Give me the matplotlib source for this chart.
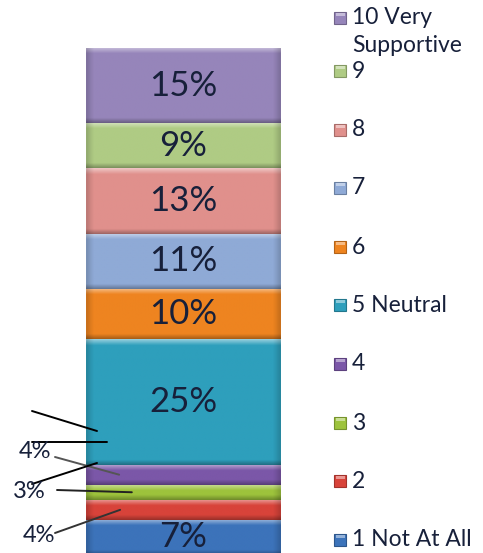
import numpy as np
import matplotlib
matplotlib.use("Agg")
import matplotlib.pyplot as plt
from matplotlib.patches import Rectangle
import matplotlib.colors as mcolors

plt.rcParams['font.family'] = ['Lato', 'DejaVu Sans']

# ---- data (bottom to top) ----
categories = ["1 Not At All", "2", "3", "4", "5 Neutral", "6", "7", "8", "9", "10 Very\nSupportive"]
values = [7, 4, 3, 4, 25, 10, 11, 13, 9, 15]
labels = ["7%", "4%", "3%", "4%", "25%", "10%", "11%", "13%", "9%", "15%"]
colors = ["#3C73BA", "#D8433A", "#9DC33C", "#7B57A8", "#2E9FBC",
          "#EE8420", "#8FAAD6", "#E0908C", "#AFCB84", "#9685BA"]
outside = [False, True, True, True, False, False, False, False, False, False]

W, H = 483, 553
fig = plt.figure(figsize=(W / 100, H / 100), dpi=100)
ax_left_px, ax_right_px, ax_top_px = 0, 310, 48
ax = fig.add_axes([0, 0, ax_right_px / W, (H - ax_top_px) / H])

bar_l, bar_r = 86, 281
bw = 1.0
xmin = -0.5 - (bar_l - ax_left_px) / (bar_r - bar_l)
xmax = 0.5 + (ax_right_px - bar_r) / (bar_r - bar_l)
ytop = sum(values)
ymin = 0.4


def mix(c, other, f):
    c = np.array(mcolors.to_rgb(c))
    o = np.array(mcolors.to_rgb(other))
    return c * (1 - f) + o * f


bottoms = np.concatenate([[0], np.cumsum(values)[:-1]])
bars = ax.bar(0, values, bottom=bottoms, width=bw, color=colors, linewidth=0)

# bevel shading
for b, col in zip(bars, colors):
    x0, y0 = b.get_x(), b.get_y()
    x1, y1 = x0 + b.get_width(), y0 + b.get_height()
    ny, nx = 200, 60
    ys = np.linspace(y1, y0, ny)
    xs = np.linspace(x0, x1, nx)
    img = np.zeros((ny, nx, 3))
    base = np.array(mcolors.to_rgb(col))
    for i, yv in enumerate(ys):
        dt = y1 - yv
        db = yv - y0
        c = base.copy()
        if dt < 1.2:
            c = c * (1 - 0.5 * (1 - dt / 1.2)) + 0.5 * (1 - dt / 1.2)
        if db < 1.0:
            c = c * (1 - 0.3 * (1 - db / 1.0))
        img[i, :, :] = c
    for j, xv in enumerate(xs):
        dx = min(xv - x0, x1 - xv)
        if dx < 0.03:
            img[:, j, :] *= (1 - 0.15 * (1 - dx / 0.03))
    im = ax.imshow(img, extent=(x0, x1, y0, y1), origin='upper', aspect='auto',
                   interpolation='bilinear', zorder=2)
    im.set_clip_path(b)

txt_col = "#17203A"
for v, lab, bot, out in zip(values, labels, bottoms, outside):
    if not out:
        ax.text(0, bot + v / 2, lab, ha='center', va='center', fontsize=25,
                color=txt_col, zorder=5)

# outside labels with leader lines (pixel positions from top-left)
def fpx(px, py):
    return (px, H - py)

mids = bottoms + np.array(values) / 2
out_idx = [i for i, o in enumerate(outside) if o]
lab_pos = {1: (39, 536), 2: (29, 492), 3: (35, 452)}
line_start = {1: (55, 533), 2: (57, 490), 3: (55, 457)}
line_end_x = {1: -0.325, 2: -0.265, 3: -0.33}
line_cols = {1: "#333333", 2: "#222222", 3: "#555555"}
for i in out_idx:
    fig.text(lab_pos[i][0] / W, 1 - lab_pos[i][1] / H, labels[i], ha='center', va='center',
             fontsize=17, color=txt_col)
    ax.annotate('', xy=(line_end_x[i], mids[i]), xycoords='data',
                xytext=fpx(*line_start[i]), textcoords='figure pixels',
                arrowprops=dict(arrowstyle='-', color=line_cols[i], lw=1.4,
                                shrinkA=0, shrinkB=0), zorder=6, annotation_clip=False)

# stray leader lines pointing into the neutral segment
stray = [((32, 411), (97, 431)), ((32, 442), (107, 442)), ((32, 484), (97, 463))]
for (sx, sy), (ex, ey) in stray:
    ax.annotate('', xy=fpx(ex, ey), xycoords='figure pixels',
                xytext=fpx(sx, sy), textcoords='figure pixels',
                arrowprops=dict(arrowstyle='-', color='black', lw=1.4,
                                shrinkA=0, shrinkB=0), zorder=6, annotation_clip=False)

ax.set_xlim(xmin, xmax)
ax.set_ylim(ymin, ytop)
ax.axis('off')

# legend (top = highest category)
leg_y = [18, 71, 130, 188, 247, 305, 364, 423, 481, 540]
for k, idx in enumerate(range(len(categories) - 1, -1, -1)):
    yc = leg_y[k]
    col = colors[idx]
    s = 12
    fig.patches.append(Rectangle(((340 - s / 2) / W, 1 - (yc + s / 2) / H), s / W, s / H,
                                 transform=fig.transFigure, facecolor=col,
                                 edgecolor=mix(col, 'black', 0.25), lw=0.8))
    fig.patches.append(Rectangle(((340 - s / 2 + 1.5) / W, 1 - (yc - s / 2 + 3.5) / H),
                                 (s - 3) / W, 2.5 / H, transform=fig.transFigure,
                                 facecolor=mix(col, 'white', 0.45), lw=0))
    for li, line in enumerate(categories[idx].split("\n")):
        fig.text(352 / W, 1 - (yc + li * 28) / H, line, ha='left', va='center',
                 fontsize=16.5, color=txt_col)

fig.savefig("out.png", dpi=100)
